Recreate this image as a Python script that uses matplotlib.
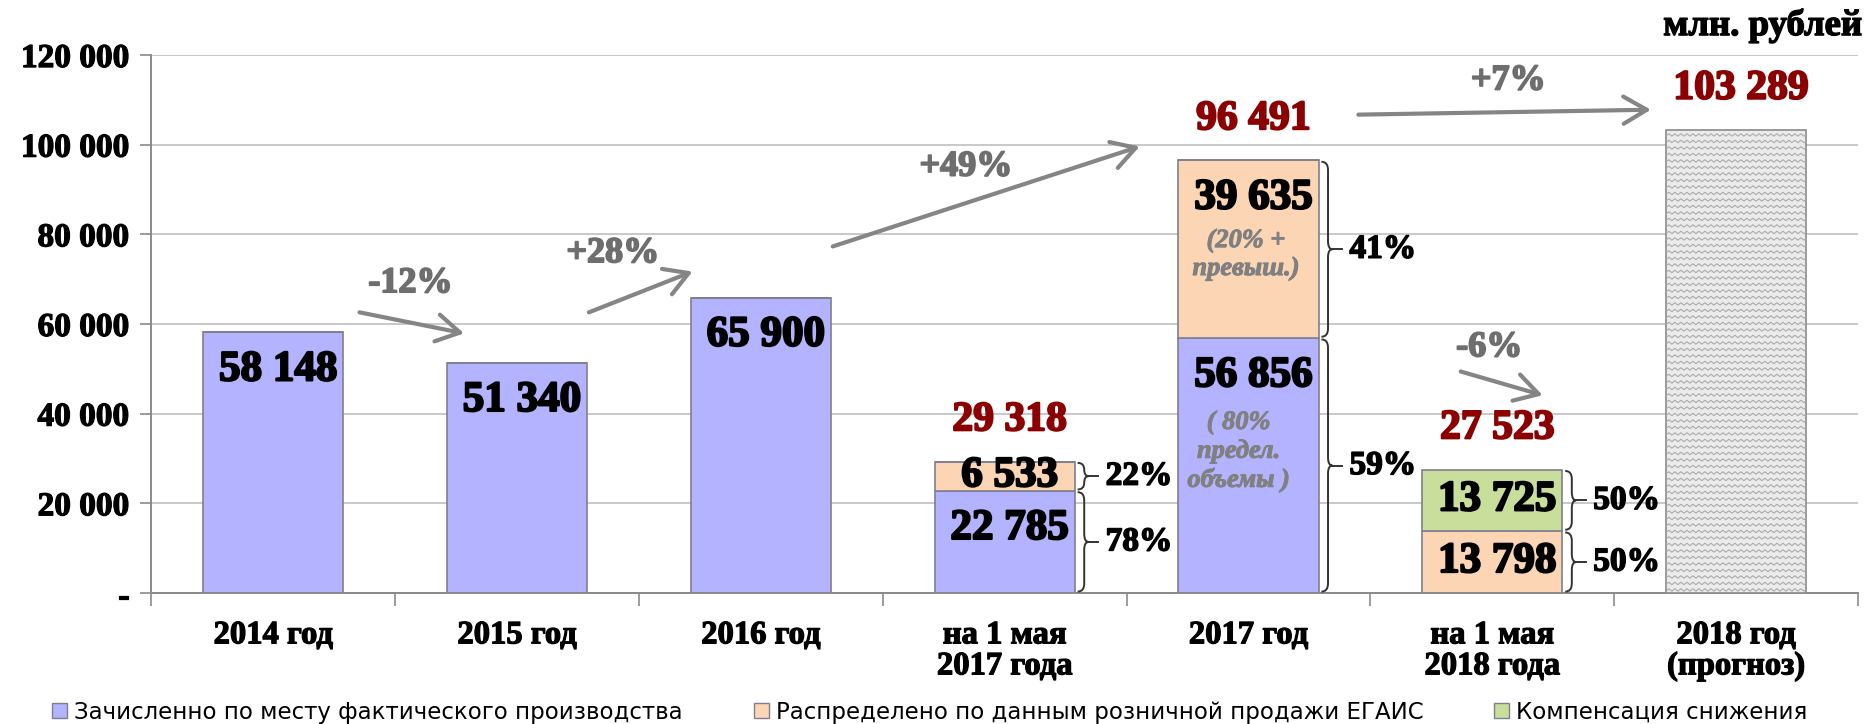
import numpy as np
import matplotlib.pyplot as plt
import matplotlib.patheffects as pe
from matplotlib.patches import Patch, PathPatch
from matplotlib.path import Path

plt.rcParams['font.family'] = ['Liberation Serif', 'DejaVu Serif']
plt.rcParams['font.weight'] = 'bold'

# данные, млн. рублей
categories = ['2014 год', '2015 год', '2016 год', 'на 1 мая\n2017 года',
              '2017 год', 'на 1 мая\n2018 года', '2018 год\n(прогноз)']
fact_prod = [58148, 51340, 65900, 22785, 56856, 0, 0]   # по месту фактического производства
egais = [0, 0, 0, 6533, 39635, 13798, 0]               # по данным розничной продажи ЕГАИС
compens = [0, 0, 0, 0, 0, 13725, 0]                    # компенсация снижения
forecast = [0, 0, 0, 0, 0, 0, 103289]                  # прогноз 2018
totals_idx = [3, 4, 5, 6]
totals = [29318, 96491, 27523, 103289]
shares = {3: ['78%', '22%'], 4: ['59%', '41%'], 5: ['50%', '50%']}
growth = ['-12%', '+28%', '+49%', '+7%', '-6%']
yticks = [0, 20000, 40000, 60000, 80000, 100000, 120000]
ytick_labels = ['-', '20 000', '40 000', '60 000', '80 000', '100 000', '120 000']
legend_labels = ['Зачисленно по месту фактического производства',
                 'Распределено по данным розничной продажи ЕГАИС',
                 'Компенсация снижения']

c_blue = '#B3B3FF'
c_peach = '#FCD5B5'
c_green = '#C9DE9A'
c_edge = '#7F7F8F'
c_red = '#8B0000'
c_gray = '#6E6E6E'
c_arrow = '#858585'
SERIF = 'Liberation Serif'


def fmt(v):
    return f'{v:,}'.replace(',', ' ')


def heavy(color, lw=1.4):
    # подложка-обводка, чтобы шрифт был плотнее, как в оригинале
    return [pe.withStroke(linewidth=lw, foreground=color)]


fig = plt.figure(figsize=(18.68, 7.24), dpi=100)
ax = fig.add_axes([0.081, 0.181, 0.9136, 0.743])

x = np.arange(len(categories))
w = 0.575

b1 = ax.bar(x, fact_prod, w, color=c_blue, edgecolor=c_edge, lw=1.2, zorder=3)
b2 = ax.bar(x, egais, w, bottom=fact_prod, color=c_peach, edgecolor=c_edge, lw=1.2, zorder=3)
bot3 = np.array(fact_prod) + np.array(egais)
b3 = ax.bar(x, compens, w, bottom=bot3, color=c_green, edgecolor=c_edge, lw=1.2, zorder=3)
b4 = ax.bar(x, forecast, w, color='#EBEBEB', edgecolor='#8A8A8A', lw=1.2, zorder=3)

# волнистая штриховка прогноза
ax_h_px = 0.743 * 724
ax_w_px = 0.9136 * 1868
dy = 120000 / ax_h_px
dx = 7 / ax_w_px
rect = b4.patches[6]
x0, x1 = rect.get_x(), rect.get_x() + rect.get_width()
zx = np.arange(x0, x1 + 6 * dx, 3 * dx)
for yy in np.arange(3 * dy, forecast[6], 6.5 * dy):
    zy = yy + np.where(np.arange(len(zx)) % 2 == 0, -1.2 * dy, 1.2 * dy)
    ln, = ax.plot(zx, zy, color='#ABABAB', lw=0.8, zorder=4)
    ln.set_clip_path(rect)

# подписи в столбцах
segs = [(fact_prod, np.zeros(7)), (egais, np.array(fact_prod)), (compens, bot3)]
for vals, bots in segs:
    for i, (v, b) in enumerate(zip(vals, bots)):
        if v <= 0:
            continue
        if v > 20000:
            yy = b + v - 8500
        else:
            yy = b + v / 2
        ax.text(i + 0.02, yy, fmt(v), ha='center', va='center', fontsize=31,
                family=SERIF, fontweight='bold', zorder=6, path_effects=heavy('black', 1.6))

ax.text(4 - 0.01, 75400, '(20% +\nпревыш.)', ha='center', va='center', fontsize=19,
        family=SERIF, fontweight='bold', style='italic', color='#808080',
        linespacing=1.25, zorder=6, path_effects=heavy('#808080', 0.7))
ax.text(4 - 0.04, 31500, '( 80%\nпредел.\nобъемы )', ha='center', va='center', fontsize=19,
        family=SERIF, fontweight='bold', style='italic', color='#808080',
        linespacing=1.3, zorder=6, path_effects=heavy('#808080', 0.7))

# итоги
for i, t in zip(totals_idx, totals):
    ax.text(i + 0.02, t + 9200, fmt(t), ha='center', va='center', fontsize=30,
            family=SERIF, fontweight='bold', color=c_red, zorder=6,
            path_effects=heavy(c_red, 1.5))


# фигурные скобки с долями
def brace(xl, y0, y1, label):
    d = 0.045
    r = min(1800, (y1 - y0) / 4)
    ym = (y0 + y1) / 2
    xm = xl + d * 0.6
    verts = [(xl, y0), (xm, y0), (xm, y0 + r), (xm, ym - r), (xm, ym), (xl + d, ym),
             (xm, ym), (xm, ym + r), (xm, y1 - r), (xm, y1), (xl, y1)]
    codes = [Path.MOVETO, Path.CURVE3, Path.CURVE3, Path.LINETO, Path.CURVE3, Path.CURVE3,
             Path.CURVE3, Path.CURVE3, Path.LINETO, Path.CURVE3, Path.CURVE3]
    ax.add_patch(PathPatch(Path(verts, codes), fill=False, ec='#333333', lw=1.4, zorder=5))
    ax.plot([xl + d, xl + d + 0.04], [ym, ym], color='#333333', lw=1.4, zorder=5)
    ax.text(xl + 0.115, ym, label, ha='left', va='center', fontsize=24,
            family=SERIF, fontweight='bold', zorder=6, path_effects=heavy('black', 1.1))


for i, labs in shares.items():
    xl = i + w / 2 + 0.012
    if i == 5:
        parts = [(0, egais[i]), (egais[i], egais[i] + compens[i])]
    else:
        parts = [(0, fact_prod[i]), (fact_prod[i], fact_prod[i] + egais[i])]
    for (y0, y1), lab in zip(parts, labs):
        brace(xl, y0 + 300, y1 - 300, lab)

# стрелки динамики
arrows = [((0.354, 62600), (0.783, 57900), (0.563, 69000)),
          ((1.295, 62600), (1.72, 71700), (1.393, 75700)),
          ((2.295, 77300), (3.554, 99600), (2.841, 95000)),
          ((4.451, 106700), (5.651, 107800), (5.066, 114200)),
          ((4.871, 49400), (5.207, 44100), (4.988, 54700))]
for (st, en, lp), g in zip(arrows, growth):
    ax.annotate('', xy=en, xytext=st,
                arrowprops=dict(arrowstyle='->,head_length=0.6,head_width=0.35',
                                color=c_arrow, lw=3, shrinkA=0, shrinkB=0,
                                mutation_scale=28), zorder=6)
    ax.text(lp[0], lp[1], g, ha='center', va='center', fontsize=26,
            family=SERIF, fontweight='bold', color=c_gray, zorder=6,
            path_effects=heavy(c_gray, 1.3))

# оси
ax.set_xlim(-0.5, 6.5)
ax.set_ylim(0, 120000)
ax.set_yticks(yticks)
ax.set_yticklabels(ytick_labels, fontsize=24, fontweight='bold', family=SERIF)
ax.set_xticks(x)
ax.set_xticklabels(categories, fontsize=23.5, fontweight='bold', family=SERIF, linespacing=1.0)
for t in ax.get_xticklabels() + ax.get_yticklabels():
    t.set_path_effects(heavy('black', 0.9))
ax.set_xticks(np.arange(-0.5, 7, 1), minor=True)
ax.tick_params(axis='x', which='major', length=0, pad=19)
ax.tick_params(axis='x', which='minor', length=9, width=1.2, color='#8A8A8A', direction='out')
ax.tick_params(axis='y', length=8, width=1.2, color='#8A8A8A', pad=8)
ax.grid(axis='y', color='#C8C8C8', lw=1.4, zorder=0)
ax.set_axisbelow(True)
for s in ['top', 'right']:
    ax.spines[s].set_visible(False)
for s in ['left', 'bottom']:
    ax.spines[s].set_color('#8A8A8A')
    ax.spines[s].set_linewidth(1.4)

fig.text(0.997, 0.965, 'млн. рублей', ha='right', va='center', fontsize=26.5,
         family=SERIF, fontweight='bold', path_effects=heavy('black', 1.0))

handles = [Patch(fc=c_blue, ec=c_edge), Patch(fc=c_peach, ec=c_edge), Patch(fc=c_green, ec=c_edge)]
fig.legend(handles, legend_labels, loc='lower left', bbox_to_anchor=(0.017, -0.028), ncol=3,
           frameon=False, handlelength=0.65, handleheight=0.65,
           handletextpad=0.3, columnspacing=3.1,
           prop={'family': 'DejaVu Sans', 'size': 16.5, 'weight': 'normal'})

fig.savefig('out.png', dpi=100)
